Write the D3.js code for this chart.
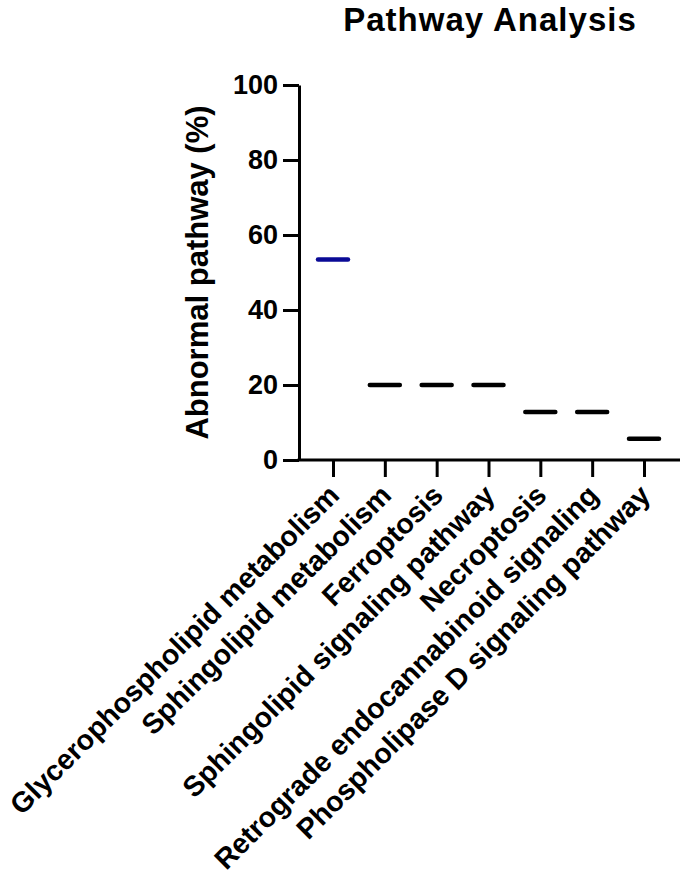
<!DOCTYPE html>
<html>
<head>
<meta charset="utf-8">
<script src="https://cdn.jsdelivr.net/npm/d3@7"></script>
<style>
  html, body { margin: 0; padding: 0; background: #fff; }
  svg { display: block; }
  text { font-family: "Liberation Sans", Arial, sans-serif; font-weight: bold; fill: #000; }
</style>
</head>
<body>
<svg id="chart" width="685" height="885"></svg>
<script>
const categories = [
  "Glycerophospholipid metabolism",
  "Sphingolipid metabolism",
  "Ferroptosis",
  "Sphingolipid signaling pathway",
  "Necroptosis",
  "Retrograde endocannabinoid signaling",
  "Phospholipase D signaling pathway"
];
const values = [53.5, 20, 20, 20, 12.8, 12.8, 5.7];
const markColors = ["#0a0a96", "#000", "#000", "#000", "#000", "#000", "#000"];
const yTicks = [0, 20, 40, 60, 80, 100];
const titleText = "Pathway Analysis";
const yLabel = "Abnormal pathway (%)";

const svg = d3.select("#chart");
const axisX = 299, axisRight = 680;

const y = d3.scaleLinear().domain([0, 100]).range([460, 85]);
const x = d3.scalePoint().domain(categories).range([333, 644]);

// Title
svg.append("text")
  .attr("x", 490).attr("y", 31)
  .attr("text-anchor", "middle")
  .style("font-size", "33px")
  .style("letter-spacing", "1px")
  .text(titleText);

// Y axis
const yAxis = d3.axisLeft(y).tickValues(yTicks).tickSize(16).tickPadding(5).tickSizeOuter(0);
const gy = svg.append("g").attr("transform", `translate(${axisX},0)`).call(yAxis);
gy.select(".domain").attr("stroke", "#000").attr("stroke-width", 3);
gy.selectAll(".tick line").attr("stroke", "#000").attr("stroke-width", 3);
gy.selectAll(".tick text")
  .style("font-size", "27px")
  .style("font-family", "'Liberation Sans', Arial, sans-serif")
  .style("font-weight", "bold")
  .attr("fill", "#000");

// Y label
svg.append("text")
  .attr("transform", `translate(208, ${(y(0) + y(100)) / 2}) rotate(-90)`)
  .attr("text-anchor", "middle")
  .style("font-size", "31px")
  .text(yLabel);

// X axis
const gx = svg.append("g").attr("transform", `translate(0, ${y(0)})`);
gx.append("line")
  .attr("x1", axisX - 1.5).attr("x2", axisRight)
  .attr("y1", 0).attr("y2", 0)
  .attr("stroke", "#000").attr("stroke-width", 3);
const xAxis = d3.axisBottom(x).tickSize(17).tickSizeOuter(0).tickFormat("");
const gxa = gx.append("g").call(xAxis);
gxa.select(".domain").remove();
gxa.selectAll(".tick line").attr("stroke", "#000").attr("stroke-width", 3);

// X labels
svg.append("g").selectAll("text")
  .data(categories)
  .join("text")
  .attr("transform", d => `translate(${x(d) + 8}, 497) rotate(-45)`)
  .attr("text-anchor", "end")
  .style("font-size", "28.5px")
  .text(d => d);

// Marks (horizontal lines)
svg.append("g").selectAll("line")
  .data(categories)
  .join("line")
  .attr("x1", d => x(d) - 15)
  .attr("x2", d => x(d) + 15)
  .attr("y1", (d, i) => y(values[i]))
  .attr("y2", (d, i) => y(values[i]))
  .attr("stroke", (d, i) => markColors[i])
  .attr("stroke-width", 4.5)
  .attr("stroke-linecap", "round");
</script>
</body>
</html>
